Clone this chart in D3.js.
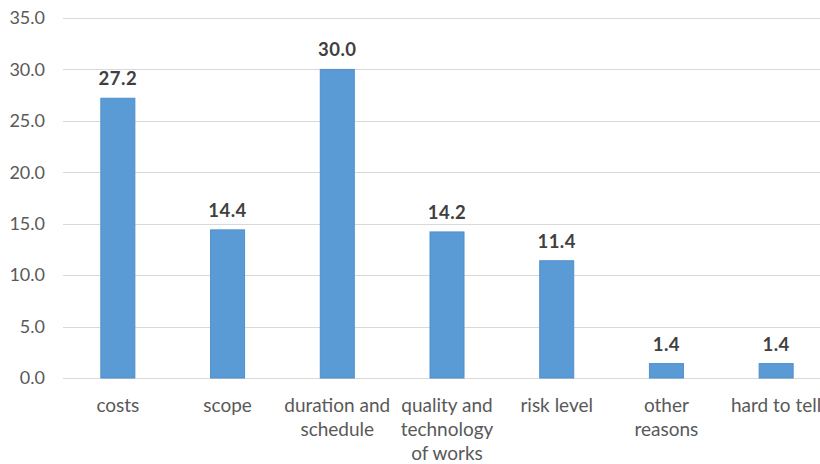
<!DOCTYPE html>
<html>
<head>
<meta charset="utf-8">
<script src="https://cdn.jsdelivr.net/npm/d3@7"></script>
<style>
  html, body { margin: 0; padding: 0; background: #fff; }
  svg { display: block; }
</style>
</head>
<body>
<svg id="chart" width="820" height="464"></svg>
<script>
// Reasons, share in percent
const categories = [
  ["costs"],
  ["scope"],
  ["duration and", "schedule"],
  ["quality and", "technology", "of works"],
  ["risk level"],
  ["other", "reasons"],
  ["hard to tell"]
];
const values = [27.2, 14.4, 30.0, 14.2, 11.4, 1.4, 1.4];
const yTicks = [0, 5, 10, 15, 20, 25, 30, 35];

const svg = d3.select("#chart");
const W = 820, H = 464;
const margin = { left: 63, right: -11, top: 18, bottom: 86 };
const font = "Lato, 'Open Sans', sans-serif";

const x = d3.scaleBand()
  .domain(d3.range(values.length))
  .range([margin.left, W - margin.right])
  .paddingInner(0.69)
  .paddingOuter(0.345);

const y = d3.scaleLinear()
  .domain([0, 35])
  .range([H - margin.bottom, margin.top]);

// Gridlines
svg.append("g")
  .selectAll("line")
  .data(yTicks)
  .join("line")
  .attr("x1", margin.left)
  .attr("x2", W)
  .attr("y1", d => Math.round(y(d)) + 0.5)
  .attr("y2", d => Math.round(y(d)) + 0.5)
  .attr("stroke", "#d9d9d9")
  .attr("stroke-width", 1.2);

// Y axis labels
const yAxis = d3.axisLeft(y).tickValues(yTicks).tickFormat(d3.format(".1f")).tickSize(0).tickPadding(0);
const ga = svg.append("g").attr("transform", "translate(45,0)").call(yAxis);
ga.select(".domain").remove();
ga.selectAll("text")
  .attr("fill", "#595959")
  .style("font-family", font)
  .style("font-size", "18px");

// Bars
svg.append("g")
  .selectAll("rect")
  .data(values)
  .join("rect")
  .attr("x", (d, i) => x(i))
  .attr("width", x.bandwidth())
  .attr("y", d => y(d))
  .attr("height", d => y(0) - y(d))
  .attr("fill", "#5b9bd5")
  .attr("stroke", "#4f8fcc")
  .attr("stroke-width", 1);

// Value labels
svg.append("g")
  .selectAll("text")
  .data(values)
  .join("text")
  .attr("x", (d, i) => x(i) + x.bandwidth() / 2)
  .attr("y", d => y(d) - 13)
  .attr("text-anchor", "middle")
  .attr("fill", "#404040")
  .style("font-family", font)
  .style("font-weight", "bold")
  .style("font-size", "18.5px")
  .style("letter-spacing", "0.5px")
  .text(d => d.toFixed(1));

// Category labels
const cat = svg.append("g")
  .selectAll("text")
  .data(categories)
  .join("text")
  .attr("x", (d, i) => x(i) + x.bandwidth() / 2)
  .attr("y", 412)
  .attr("text-anchor", "middle")
  .attr("fill", "#595959")
  .style("font-family", font)
  .style("font-size", "19px");
cat.each(function(lines) {
  const t = d3.select(this);
  const cx = t.attr("x");
  lines.forEach((line, k) => {
    t.append("tspan").attr("x", cx).attr("dy", k === 0 ? 0 : 24).text(line);
  });
});
</script>
</body>
</html>
